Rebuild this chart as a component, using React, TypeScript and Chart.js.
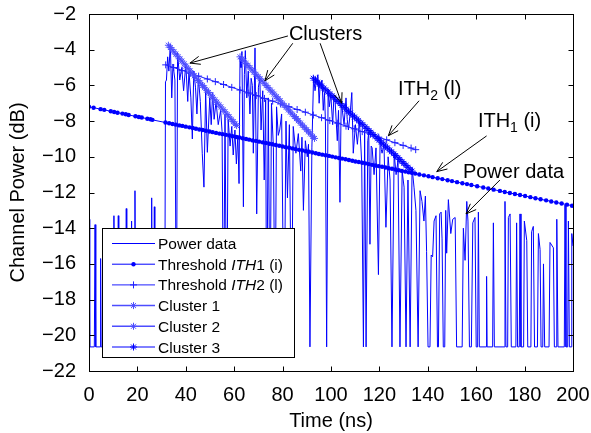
import React, { useEffect, useRef } from 'react';
import { Chart, registerables } from 'chart.js';

Chart.register(...registerables);

const FONT = '"Liberation Sans", Arial, Helvetica, sans-serif';

// ---- axes ----
const xRange = [0, 200];
const xStep = 20;
const yRange = [-22, -2];
const yStep = 2;
const xTitle = 'Time (ns)';
const yTitle = 'Channel Power (dB)';

// ---- power data [time ns, dB] ----
const powerData: number[][] = [
  [0, -13.5], [0.3, -20.65], [2.2, -20.65], [2.5, -13.8], [2.8, -20.65], [4.6, -20.65], [4.8, -15.7], [5.0, -20.65],
  [10.1, -20.65], [10.3, -13.3], [10.5, -20.65], [11.9, -20.65], [12.1, -13.3], [12.3, -20.65], [15.2, -20.65], [15.4, -12.9],
  [15.6, -20.65], [17.4, -20.65], [17.6, -13.6], [17.8, -20.65], [18.8, -20.65], [19.0, -11.9], [19.2, -20.65], [25.7, -20.65],
  [25.9, -12.3], [26.1, -20.65], [26.8, -20.65], [27.0, -12.8], [27.2, -20.65], [31.3, -20.65],
  [31.6, -5.8], [32.0, -5.7], [32.5, -4.4], [33.0, -5.2], [33.6, -3.7], [34.2, -6.7], [34.7, -4.8], [35.5, -5.7], [36.1, -20.65],
  [36.6, -4.2], [37.5, -5.7], [38.3, -5.0], [39.1, -6.3], [40.0, -4.8], [40.8, -6.9], [41.3, -5.2], [42.1, -6.7], [42.7, -9.0],
  [43.3, -5.2], [44.0, -6.1], [44.6, -7.6], [45.2, -5.55], [46.0, -6.9], [46.8, -9.8], [47.5, -11.7], [48.2, -6.3], [48.9, -9.75],
  [49.9, -6.7], [50.5, -8.2], [51.1, -6.4], [51.7, -7.9], [52.5, -6.9], [53.4, -8.2], [54.4, -7.4], [55.0, -8.6], [55.6, -20.65],
  [56.2, -7.6], [56.9, -20.65], [57.5, -7.9], [58.3, -9.4], [59.0, -8.3], [59.6, -9.9], [60.3, -8.5], [60.9, -10.4], [61.5, -8.8],
  [62.0, -11.5],
  [62.4, -4.4], [62.8, -5.0], [63.2, -4.1], [63.8, -12.8], [64.2, -5.4], [64.6, -4.05], [65.2, -6.7], [65.8, -5.2], [66.5, -7.6],
  [67.0, -5.6], [67.5, -6.0], [67.9, -9.8], [68.6, -3.9], [69.3, -13.2], [70.0, -6.1], [70.6, -5.6], [71.1, -8.5], [71.8, -6.3],
  [72.4, -11.3], [73.0, -6.8], [73.4, -20.65], [74.1, -6.7], [74.8, -20.65], [75.4, -7.0], [76.2, -9.5], [76.9, -20.65], [77.5, -7.2],
  [78.2, -8.8], [78.8, -8.5], [79.6, -7.6], [80.6, -20.65], [81.4, -8.0], [82.0, -12.3], [82.8, -8.2], [83.7, -20.65], [84.4, -8.3],
  [85.5, -9.8], [86.5, -8.7], [87.5, -10.8], [88.0, -8.9], [88.6, -13.0], [89.4, -9.1], [90.2, -10.0], [90.7, -9.3], [91.3, -20.65],
  [92.1, -9.5],
  [92.8, -5.5], [93.4, -6.3], [93.9, -5.8], [94.6, -5.4], [95.1, -7.0], [95.5, -6.0], [96.3, -5.7], [96.8, -7.4], [97.3, -6.4],
  [97.7, -8.0], [98.2, -20.65], [98.8, -6.2], [99.3, -7.2], [99.9, -6.5], [100.7, -8.2], [101.2, -6.6], [101.7, -6.9], [102.6, -9.1],
  [103.1, -7.4], [103.7, -12.55], [104.2, -7.1], [104.6, -7.3], [105.4, -8.2], [106.2, -6.7], [106.7, -7.9], [107.2, -8.5], [107.9, -7.6],
  [108.6, -6.4], [109.2, -9.8], [110.1, -8.2], [110.9, -9.3], [111.7, -8.0], [112.2, -9.0], [112.7, -10.4], [113.4, -20.65], [113.9, -8.5],
  [114.5, -20.65], [115.2, -9.1], [115.6, -8.6], [116.1, -14.9], [116.6, -9.4], [117.0, -9.5], [117.8, -11.0], [118.6, -9.5], [119.6, -16.6],
  [120.3, -8.9], [120.8, -9.6], [121.1, -9.8], [121.9, -9.3], [122.7, -13.95], [123.6, -10.0], [124.4, -11.3], [125.2, -20.65], [126.1, -9.8],
  [126.9, -11.0], [127.7, -10.2], [128.5, -20.65], [129.4, -10.8], [130.2, -11.7], [131.0, -20.65], [131.8, -11.3], [132.7, -20.65], [133.5, -10.6],
  [134.3, -11.7], [135.1, -13.0], [136.0, -20.65], [136.8, -11.9], [137.6, -12.5], [138.4, -13.6], [139.0, -12.2], [139.5, -15.3], [140.1, -20.65],
  [140.9, -20.65], [141.4, -15.5], [142.0, -15.6], [142.6, -13.6], [143.4, -13.3], [144.0, -20.65], [144.4, -20.65], [144.9, -13.2], [145.5, -13.1],
  [145.9, -14.6], [146.4, -20.65], [147.0, -20.65], [147.4, -13.0], [147.8, -15.4], [148.5, -12.4], [149.5, -14.3], [150.3, -13.5], [151.3, -13.4],
  [151.9, -20.65], [154.2, -20.65], [154.7, -14.0], [155.4, -15.8], [156.1, -12.5], [156.6, -13.6], [157.2, -20.65], [158.0, -20.65], [158.6, -13.7],
  [159.5, -13.4], [160.0, -20.65], [160.6, -20.65], [160.9, -13.1], [161.3, -20.65], [164.1, -20.65], [164.3, -16.7], [164.5, -20.65], [166.8, -20.65],
  [167.1, -13.7], [167.5, -20.65], [171.7, -20.65], [171.9, -12.5], [172.3, -20.65], [173.0, -20.65], [173.3, -13.4], [174.0, -13.2], [174.5, -20.65],
  [176.4, -20.65], [176.7, -13.7], [177.1, -20.65], [177.8, -20.65], [178.1, -13.2], [178.5, -20.65], [179.6, -20.65], [179.9, -13.6], [180.9, -14.7],
  [181.3, -20.65], [182.6, -20.65], [182.9, -14.2], [183.6, -13.9], [184.1, -20.65], [185.3, -20.65], [185.7, -14.3], [186.4, -15.2], [186.8, -20.65],
  [187.5, -20.65], [187.8, -16.0], [188.3, -20.65], [190.1, -20.65], [190.5, -14.8], [191.9, -15.1], [192.3, -20.65], [193.0, -20.65], [193.3, -13.5],
  [193.8, -20.65], [196.4, -20.65], [196.7, -12.7], [197.1, -20.65], [197.8, -20.65], [198.1, -13.6], [198.5, -20.65], [199.2, -20.65], [199.5, -14.3],
  [200, -15.0],
];

// ---- threshold ITH1 (i) ----
const ith1Data: number[][] = [
  [0, -7.2], [1.9, -7.25], [4.8, -7.33], [6.3, -7.37], [9.0, -7.45], [10.4, -7.49], [11.8, -7.53], [13.8, -7.58], [15.2, -7.62],
  [16.4, -7.66], [19.2, -7.73], [20.6, -7.77], [21.8, -7.8], [24.1, -7.87], [25.4, -7.9], [26.2, -7.93], [31.6, -8.08], [33.1, -8.12],
  [34.5, -8.16], [35.9, -8.2], [37.3, -8.24], [38.6, -8.27], [40.0, -8.31], [41.5, -8.35], [42.9, -8.39], [44.2, -8.43], [45.6, -8.47],
  [47.0, -8.5], [48.3, -8.54], [49.8, -8.58], [51.1, -8.62], [52.5, -8.66], [53.9, -8.7], [55.2, -8.73], [56.6, -8.77], [58.0, -8.81],
  [59.3, -8.85], [60.8, -8.89], [62.1, -8.92], [63.5, -8.96], [64.9, -9.0], [66.2, -9.04], [67.6, -9.08], [69.0, -9.11], [70.3, -9.15],
  [71.7, -9.19], [73.1, -9.23], [74.5, -9.27], [75.8, -9.3], [77.2, -9.34], [78.6, -9.38], [80.0, -9.42], [81.3, -9.46], [82.7, -9.49],
  [84.1, -9.53], [85.4, -9.57], [86.8, -9.61], [88.2, -9.65], [89.6, -9.69], [90.9, -9.72], [92.3, -9.76], [93.7, -9.8], [95.0, -9.84],
  [96.4, -9.88], [97.8, -9.91], [99.2, -9.95], [100.5, -9.99], [101.9, -10.03], [103.3, -10.07], [104.6, -10.1], [106.0, -10.14],
  [107.4, -10.18], [108.8, -10.22], [110.1, -10.26], [111.5, -10.29], [112.9, -10.33], [114.2, -10.37], [115.6, -10.41], [117.0, -10.45],
  [118.4, -10.49], [119.7, -10.52], [121.1, -10.56], [122.5, -10.6], [123.8, -10.64], [125.2, -10.67], [126.6, -10.71], [128.0, -10.75],
  [129.3, -10.79], [130.7, -10.83], [132.1, -10.87], [133.4, -10.9], [134.8, -10.94], [136.5, -10.99], [138.4, -11.04], [140.3, -11.09],
  [142.0, -11.14], [144.1, -11.2], [146.0, -11.25], [148.2, -11.31], [150.0, -11.36], [152.1, -11.42], [154.3, -11.48], [156.2, -11.53],
  [158.0, -11.58], [160.4, -11.65], [162.9, -11.72], [165.0, -11.78], [167.2, -11.84], [169.8, -11.91], [171.8, -11.97], [173.9, -12.03],
  [176.0, -12.08], [178.1, -12.14], [180.2, -12.2], [182.4, -12.26], [184.5, -12.32], [186.6, -12.38], [188.9, -12.44], [191.0, -12.5],
  [193.1, -12.56], [195.3, -12.62], [197.5, -12.68], [199.6, -12.74],
];

// ---- threshold ITH2 (l) ----
const ith2Data: number[][] = [
  [31.7, -4.85], [35.0, -5.0], [38.5, -5.16], [42.0, -5.32], [45.3, -5.48], [48.9, -5.64], [52.2, -5.79], [55.6, -5.95], [59.0, -6.11],
  [62.4, -6.26], [65.8, -6.42], [69.1, -6.57], [72.5, -6.73], [75.9, -6.88], [79.2, -7.04], [82.6, -7.19], [86.0, -7.35], [89.4, -7.5],
  [92.7, -7.66], [96.1, -7.81], [99.5, -7.97], [102.8, -8.12], [106.2, -8.28], [109.6, -8.43], [112.9, -8.59], [116.3, -8.74],
  [119.7, -8.9], [123.0, -9.05], [126.4, -9.21], [129.8, -9.36], [133.1, -9.51], [135.0, -9.6],
];

// ---- clusters ----
const cluster1Data: number[][] = [
  [32.8, -3.75], [33.6, -3.88], [34.3, -3.99], [35.1, -4.12], [35.9, -4.25], [36.8, -4.39], [37.6, -4.52], [38.4, -4.64], [39.3, -4.79],
  [40.1, -4.92], [41.0, -5.06], [41.8, -5.19], [42.7, -5.33], [43.5, -5.46], [44.3, -5.59], [45.2, -5.73], [46.0, -5.86], [46.9, -6.0],
  [47.7, -6.13], [48.6, -6.27], [49.4, -6.4], [50.3, -6.54], [51.1, -6.67], [52.0, -6.81], [52.8, -6.94], [53.7, -7.09], [54.5, -7.21],
  [55.4, -7.36], [56.2, -7.48], [57.1, -7.63], [57.9, -7.76], [58.8, -7.9], [59.6, -8.03], [60.4, -8.16], [61.0, -8.25],
];
const cluster2Data: number[][] = [
  [62.4, -4.4], [63.2, -4.52], [64.0, -4.64], [64.9, -4.77], [65.7, -4.89], [66.5, -5.01], [67.4, -5.14], [68.2, -5.26], [69.0, -5.38],
  [69.9, -5.51], [70.7, -5.63], [71.5, -5.75], [72.4, -5.88], [73.2, -6.0], [74.0, -6.12], [74.9, -6.26], [75.7, -6.37], [76.5, -6.49],
  [77.4, -6.63], [78.2, -6.75], [79.0, -6.86], [79.9, -7.0], [80.7, -7.12], [81.5, -7.23], [82.4, -7.37], [83.2, -7.49], [84.0, -7.61],
  [84.9, -7.74], [85.7, -7.86], [86.5, -7.98], [87.4, -8.11], [88.2, -8.23], [89.0, -8.35], [89.9, -8.48], [90.7, -8.6], [91.5, -8.72],
  [92.4, -8.85], [93.2, -8.97],
];
const cluster3Data: number[][] = [
  [92.7, -5.6], [93.6, -5.71], [94.4, -5.82], [95.3, -5.93], [96.1, -6.03], [97.0, -6.15], [97.8, -6.25], [98.7, -6.37], [99.5, -6.47],
  [100.4, -6.58], [101.2, -6.68], [102.1, -6.8], [102.9, -6.9], [103.8, -7.02], [104.6, -7.12], [105.5, -7.23], [106.3, -7.33],
  [107.2, -7.45], [108.0, -7.55], [108.9, -7.67], [109.7, -7.77], [110.6, -7.88], [111.4, -7.98], [112.3, -8.1], [113.1, -8.2],
  [114.0, -8.32], [114.8, -8.42], [115.7, -8.53], [116.5, -8.63], [117.4, -8.75], [118.2, -8.85], [119.1, -8.97], [119.9, -9.07],
  [120.8, -9.18], [121.6, -9.28], [122.5, -9.4], [123.3, -9.5], [124.2, -9.62], [125.0, -9.72], [125.9, -9.83], [126.7, -9.93],
  [127.6, -10.05], [128.4, -10.15], [129.3, -10.27], [130.1, -10.37], [131.0, -10.48], [131.8, -10.59], [132.7, -10.7], [133.5, -10.8],
];

// ---- annotations (data coordinates) ----
// text: [left time, baseline dB]
const annotationLabels: { parts: [string, string][]; t: number; v: number }[] = [
  { parts: [['Clusters', 'n']], t: 82.6, v: -3.46 },
  { parts: [['ITH', 'n'], ['2', 'sub'], [' (l)', 'n']], t: 127.7, v: -6.54 },
  { parts: [['ITH', 'n'], ['1', 'sub'], [' (i)', 'n']], t: 160.7, v: -8.31 },
  { parts: [['Power data', 'n']], t: 154.5, v: -11.19 },
];
// arrows: [tail t, tail v, head t, head v]
const annotationArrows: number[][] = [
  [82.2, -3.23, 41.7, -4.75],
  [84.2, -3.64, 72.7, -5.74],
  [95.5, -3.64, 104.4, -7.0],
  [136.4, -6.86, 123.7, -8.82],
  [164.3, -8.83, 143.7, -10.83],
  [169.8, -11.3, 155.8, -13.2],
];

// ---- legend ----
const legendLabels: [string, string][][] = [
  [['Power data', 'n']],
  [['Threshold ', 'n'], ['ITH', 'i'], ['1 (i)', 'n']],
  [['Threshold ', 'n'], ['ITH', 'i'], ['2 (l)', 'n']],
  [['Cluster 1', 'n']],
  [['Cluster 2', 'n']],
  [['Cluster 3', 'n']],
];

const STYLES = [
  { color: '#0000ff', width: 1, marker: '', r: 0, order: 10 },
  { color: '#0000ff', width: 1, marker: 'circle', r: 2.2, order: 4 },
  { color: '#2020ff', width: 1, marker: 'cross', r: 3.5, order: 3 },
  { color: '#4d4dff', width: 1.5, marker: 'star', r: 3.5, order: 2 },
  { color: '#4d4dff', width: 1.5, marker: 'star', r: 3.5, order: 1 },
  { color: '#0000ff', width: 1, marker: 'star', r: 3.5, order: 0 },
];

function drawMarker(ctx: CanvasRenderingContext2D, style: string, x: number, y: number, r: number, color: string) {
  ctx.save();
  ctx.strokeStyle = color;
  ctx.fillStyle = color;
  ctx.lineWidth = 1;
  ctx.beginPath();
  if (style === 'circle') {
    ctx.arc(x, y, r, 0, Math.PI * 2);
    ctx.fill();
  } else if (style === 'cross') {
    ctx.moveTo(x - r, y); ctx.lineTo(x + r, y);
    ctx.moveTo(x, y - r); ctx.lineTo(x, y + r);
    ctx.stroke();
  } else if (style === 'star') {
    const d = r * Math.SQRT1_2;
    ctx.moveTo(x - r, y); ctx.lineTo(x + r, y);
    ctx.moveTo(x, y - r); ctx.lineTo(x, y + r);
    ctx.moveTo(x - d, y - d); ctx.lineTo(x + d, y + d);
    ctx.moveTo(x - d, y + d); ctx.lineTo(x + d, y - d);
    ctx.stroke();
  }
  ctx.restore();
}

function drawParts(ctx: CanvasRenderingContext2D, parts: [string, string][], x: number, y: number, size: number) {
  let cx = x;
  for (const [txt, kind] of parts) {
    if (kind === 'sub') {
      ctx.font = `${Math.round(size * 0.7)}px ${FONT}`;
      ctx.fillText(txt, cx, y + size * 0.25);
    } else if (kind === 'i') {
      ctx.font = `italic ${size}px ${FONT}`;
      ctx.fillText(txt, cx, y);
    } else {
      ctx.font = `${size}px ${FONT}`;
      ctx.fillText(txt, cx, y);
    }
    cx += ctx.measureText(txt).width;
  }
}

function drawArrow(ctx: CanvasRenderingContext2D, x1: number, y1: number, x2: number, y2: number) {
  ctx.beginPath();
  ctx.moveTo(x1, y1);
  ctx.lineTo(x2, y2);
  ctx.stroke();
  const a = Math.atan2(y2 - y1, x2 - x1);
  const L = 11;
  const w = 0.38;
  ctx.beginPath();
  ctx.moveTo(x2 - L * Math.cos(a - w), y2 - L * Math.sin(a - w));
  ctx.lineTo(x2, y2);
  ctx.lineTo(x2 - L * Math.cos(a + w), y2 - L * Math.sin(a + w));
  ctx.stroke();
}

const overlayPlugin = {
  id: 'overlay',
  afterDraw(chart: any) {
    const { ctx, chartArea: a, scales } = chart;
    const xs = scales.x;
    const ys = scales.y;
    ctx.save();
    // annotations
    ctx.strokeStyle = '#000';
    ctx.fillStyle = '#000';
    ctx.lineWidth = 1;
    ctx.textBaseline = 'alphabetic';
    ctx.textAlign = 'left';
    for (const [t1, v1, t2, v2] of annotationArrows) {
      drawArrow(ctx, xs.getPixelForValue(t1), ys.getPixelForValue(v1), xs.getPixelForValue(t2), ys.getPixelForValue(v2));
    }
    for (const lab of annotationLabels) {
      drawParts(ctx, lab.parts, xs.getPixelForValue(lab.t), ys.getPixelForValue(lab.v), 20);
    }

    // legend
    const lx = a.left + 13;
    const ly = a.top + 214;
    const lw = 192;
    const lh = 129;
    ctx.fillStyle = '#fff';
    ctx.fillRect(lx, ly, lw, lh);
    ctx.strokeStyle = '#000';
    ctx.lineWidth = 1;
    ctx.strokeRect(Math.round(lx) + 0.5, Math.round(ly) + 0.5, lw, lh);
    legendLabels.forEach((parts, i) => {
      const st = STYLES[i];
      const cy = ly + 15.5 + i * 20.7;
      ctx.strokeStyle = st.color;
      ctx.lineWidth = st.width;
      ctx.beginPath();
      ctx.moveTo(lx + 10, cy);
      ctx.lineTo(lx + 53, cy);
      ctx.stroke();
      if (st.marker) drawMarker(ctx, st.marker, lx + 31.5, cy, st.r, st.color);
      ctx.fillStyle = '#000';
      drawParts(ctx, parts, lx + 56, cy + 5.5, 15.5);
    });

    // axes box and inward ticks
    ctx.strokeStyle = '#000';
    ctx.lineWidth = 1;
    const L = Math.round(a.left) + 0.5;
    const R = Math.round(a.right) + 0.5;
    const T = Math.round(a.top) + 0.5;
    const B = Math.round(a.bottom) + 0.5;
    ctx.strokeRect(L, T, R - L, B - T);
    ctx.beginPath();
    for (const tk of xs.ticks) {
      const px = Math.round(xs.getPixelForValue(tk.value)) + 0.5;
      ctx.moveTo(px, B); ctx.lineTo(px, B - 5);
      ctx.moveTo(px, T); ctx.lineTo(px, T + 5);
    }
    for (const tk of ys.ticks) {
      const py = Math.round(ys.getPixelForValue(tk.value)) + 0.5;
      ctx.moveTo(L, py); ctx.lineTo(L + 5, py);
      ctx.moveTo(R, py); ctx.lineTo(R - 5, py);
    }
    ctx.stroke();
    ctx.restore();
  },
};

function toXY(d: number[][]) {
  return d.map(([x, y]) => ({ x, y }));
}

function zeroPadding(s: any) {
  s.paddingLeft = 0;
  s.paddingRight = 0;
  s.paddingTop = 0;
  s.paddingBottom = 0;
}

export default function App() {
  const ref = useRef<HTMLCanvasElement | null>(null);
  useEffect(() => {
    const canvas = ref.current;
    if (!canvas) return;
    const series = [powerData, ith1Data, ith2Data, cluster1Data, cluster2Data, cluster3Data];
    const names = ['Power data', 'Threshold ITH1 (i)', 'Threshold ITH2 (l)', 'Cluster 1', 'Cluster 2', 'Cluster 3'];
    const datasets = series.map((d, i) => {
      const st = STYLES[i];
      return {
        label: names[i],
        data: toXY(d),
        borderColor: st.color,
        backgroundColor: st.color,
        borderWidth: st.width,
        pointRadius: st.r,
        pointStyle: st.marker || 'circle',
        pointBorderColor: st.color,
        pointBackgroundColor: st.color,
        pointBorderWidth: st.marker === 'circle' ? 0 : 1,
        tension: 0,
        fill: false,
        order: st.order,
      };
    });
    const tickFont = { family: FONT, size: 20 };
    const chart = new Chart(canvas, {
      type: 'line',
      data: { datasets },
      options: {
        responsive: false,
        animation: false,
        events: [],
        layout: { padding: { top: 14, right: 18, left: 0, bottom: 0 } },
        plugins: { legend: { display: false }, tooltip: { enabled: false } },
        scales: {
          x: {
            type: 'linear',
            min: xRange[0],
            max: xRange[1],
            ticks: { stepSize: xStep, color: '#000', font: tickFont, padding: 12, maxRotation: 0, autoSkip: false },
            grid: { display: false, drawTicks: false },
            border: { display: false },
            title: { display: true, text: xTitle, color: '#000', font: tickFont, padding: { top: 0, bottom: 0 } },
            afterFit: (s: any) => { s.height = 62; zeroPadding(s); },
          },
          y: {
            type: 'linear',
            min: yRange[0],
            max: yRange[1],
            ticks: {
              stepSize: yStep,
              color: '#000',
              font: tickFont,
              padding: 13,
              callback: (v: any) => String(v).replace('-', '\u2212'),
            },
            grid: { display: false, drawTicks: false },
            border: { display: false },
            title: { display: true, text: yTitle, color: '#000', font: tickFont, padding: { top: 6, bottom: 0 } },
            afterFit: (s: any) => { s.width = 89; zeroPadding(s); },
          },
        },
      } as any,
      plugins: [overlayPlugin],
    });
    return () => chart.destroy();
  }, []);
  return (
    <div style={{ position: 'absolute', left: 0, top: 0, width: 591, height: 433, background: '#fff' }}>
      <canvas ref={ref} width={591} height={433} style={{ display: 'block' }} />
    </div>
  );
}
